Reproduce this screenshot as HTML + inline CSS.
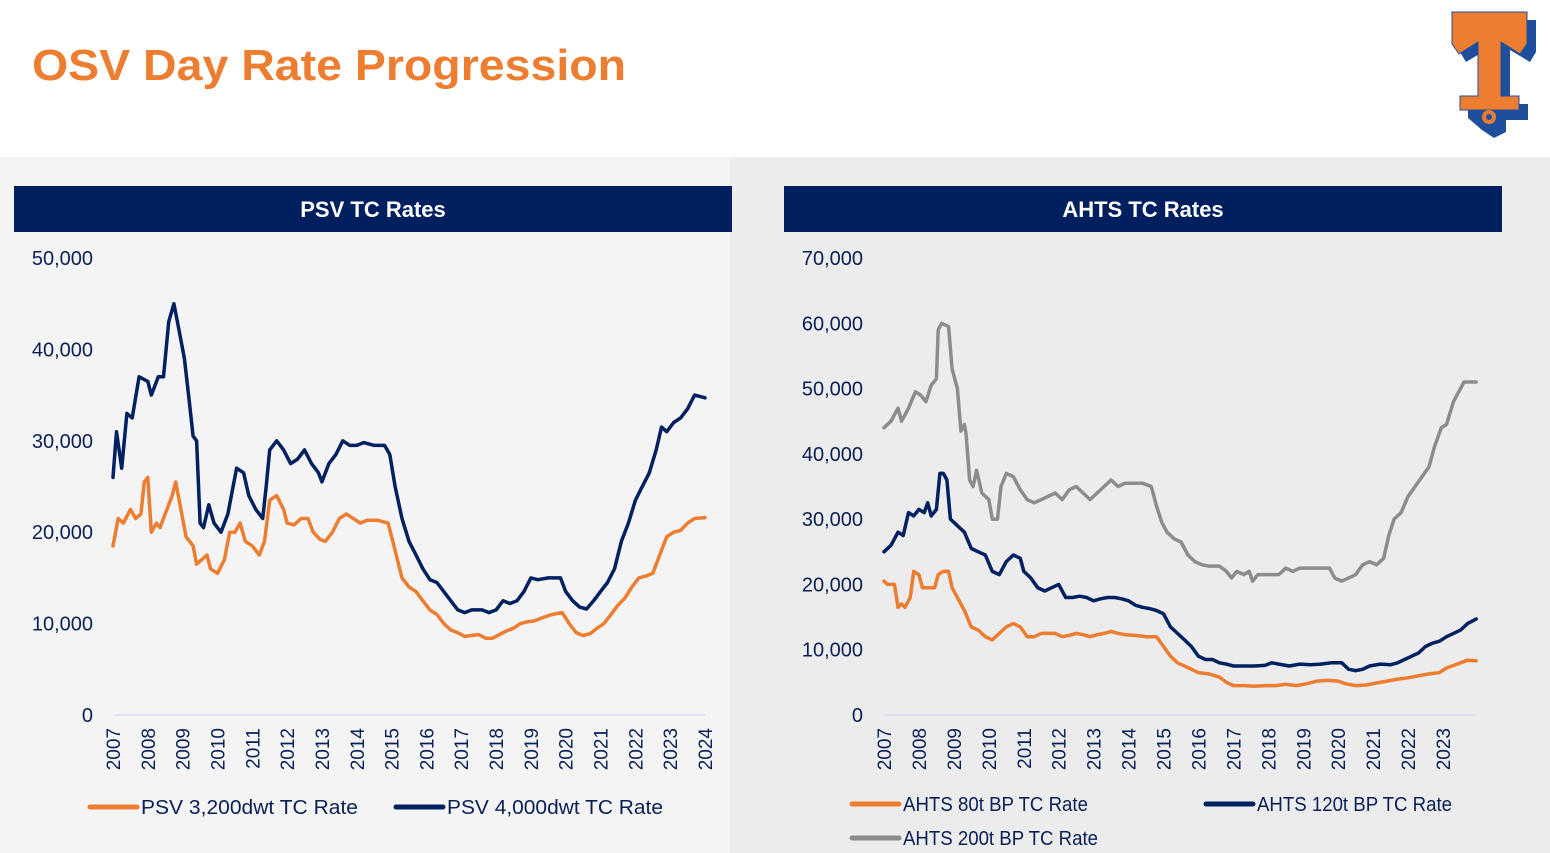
<!DOCTYPE html>
<html><head><meta charset="utf-8">
<style>
body{margin:0;width:1550px;height:853px;overflow:hidden;background:#fff;font-family:"Liberation Sans",Arial,sans-serif;}
svg{position:absolute;left:0;top:0}
</style></head>
<body>
<svg id="s" width="1550" height="853" viewBox="0 0 1550 853" xmlns="http://www.w3.org/2000/svg">
<rect x="0" y="0" width="1550" height="157" fill="#fff"/>
<text x="32" y="80" font-size="44" font-weight="bold" fill="#ed7d31" textLength="594" lengthAdjust="spacingAndGlyphs">OSV Day Rate Progression</text>
<g>
<polygon points="1460,20 1536,20 1536,52 1530,62 1510,50 1510,104 1528,104 1528,120 1506,120 1506,132 1494,138 1482,130 1468,118 1468,104 1486,104 1486,50 1466,62 1460,52" fill="#1f4e9c"/>
<polygon points="1452,12 1527,12 1527,44 1520,54 1501,42 1501,96 1519,96 1519,110 1460,110 1460,96 1478,96 1478,42 1459,54 1452,44" fill="#ed7d31" stroke="#1f4e9c" stroke-width="1"/>
<circle cx="1489" cy="117" r="7" fill="#ed7d31"/><circle cx="1489" cy="117" r="3" fill="#1f4e9c"/>
</g>
<rect x="0" y="157" width="730" height="696" fill="#f4f4f4"/>
<rect x="730" y="157" width="820" height="696" fill="#ececec"/>
<rect x="14" y="186" width="718" height="46" fill="#001f5f"/>
<text x="373" y="217" font-size="22" font-weight="bold" fill="#fff" text-anchor="middle">PSV TC Rates</text>
<rect x="784" y="186" width="718" height="46" fill="#001f5f"/>
<text x="1143" y="217" font-size="22" font-weight="bold" fill="#fff" text-anchor="middle">AHTS TC Rates</text>
<g id="left"></g><g id="right"></g>
</svg>
<script>
// ---------- PSV data ----------
const psvTicks=[0,10000,20000,30000,40000,50000];
const psvYears=[2007,2008,2009,2010,2011,2012,2013,2014,2015,2016,2017,2018,2019,2020,2021,2022,2023,2024];
const psv4000X=[2007.0,2007.1,2007.25,2007.4,2007.55,2007.75,2008.0,2008.1,2008.3,2008.45,2008.6,2008.75,2008.9,2009.05,2009.2,2009.3,2009.4,2009.5,2009.6,2009.75,2009.9,2010.1,2010.3,2010.45,2010.55,2010.75,2010.9,2011.1,2011.3,2011.4,2011.5,2011.7,2011.9,2012.1,2012.3,2012.5,2012.7,2012.9,2013.0,2013.2,2013.4,2013.6,2013.8,2014.0,2014.2,2014.5,2014.8,2014.95,2015.1,2015.3,2015.5,2015.7,2015.9,2016.1,2016.3,2016.5,2016.7,2016.9,2017.1,2017.3,2017.6,2017.8,2018.0,2018.2,2018.4,2018.6,2018.8,2019.0,2019.2,2019.5,2019.7,2019.85,2020.0,2020.2,2020.4,2020.6,2020.8,2021.0,2021.2,2021.4,2021.6,2021.8,2022.0,2022.2,2022.4,2022.6,2022.75,2022.9,2023.1,2023.3,2023.5,2023.7,2024.0];
const psv4000V=[26000,31000,27000,33000,32500,37000,36500,35000,37000,37000,43000,45000,42000,39000,34000,30500,30000,21000,20500,23000,21000,20000,22000,25000,27000,26500,24000,22500,21500,25000,29000,30000,29000,27500,28000,29000,27500,26500,25500,27500,28500,30000,29500,29500,29800,29500,29500,28500,25000,21500,19000,17500,16000,14800,14500,13500,12500,11500,11200,11500,11500,11200,11500,12500,12200,12500,13500,15000,14800,15000,15000,15000,13500,12500,11800,11600,12500,13500,14500,16000,19000,21000,23500,25000,26500,29000,31500,31000,32000,32500,33500,35000,34700];
const psv3200X=[2007.0,2007.15,2007.3,2007.5,2007.65,2007.8,2007.9,2008.0,2008.1,2008.25,2008.35,2008.5,2008.7,2008.8,2008.95,2009.1,2009.3,2009.4,2009.55,2009.7,2009.8,2010.0,2010.2,2010.35,2010.5,2010.65,2010.8,2011.0,2011.2,2011.35,2011.5,2011.7,2011.9,2012.0,2012.2,2012.4,2012.6,2012.75,2012.95,2013.1,2013.3,2013.5,2013.7,2013.9,2014.1,2014.3,2014.6,2014.9,2015.1,2015.3,2015.5,2015.7,2015.9,2016.1,2016.3,2016.5,2016.7,2016.9,2017.1,2017.3,2017.5,2017.7,2017.9,2018.1,2018.3,2018.5,2018.7,2018.9,2019.1,2019.3,2019.6,2019.9,2020.1,2020.3,2020.5,2020.7,2020.9,2021.1,2021.3,2021.5,2021.7,2021.9,2022.1,2022.3,2022.5,2022.7,2022.9,2023.1,2023.3,2023.5,2023.7,2024.0];
const psv3200V=[18500,21500,21000,22500,21500,22000,25500,26000,20000,21000,20500,22000,24000,25500,22500,19500,18500,16500,17000,17500,16000,15500,17000,20000,20000,21000,19000,18500,17500,19000,23500,24000,22500,21000,20800,21500,21500,20000,19200,19000,20000,21500,22000,21500,21000,21300,21300,21000,18000,15000,14000,13500,12500,11500,11000,10000,9300,9000,8600,8700,8800,8400,8400,8800,9200,9500,10000,10200,10300,10600,11000,11200,10000,9000,8700,8900,9500,10000,11000,12000,12800,14000,15000,15200,15500,17500,19500,20000,20200,21000,21500,21600];
// ---------- AHTS data ----------
const ahtsTicks=[0,10000,20000,30000,40000,50000,60000,70000];
const ahtsYears=[2007,2008,2009,2010,2011,2012,2013,2014,2015,2016,2017,2018,2019,2020,2021,2022,2023];
const a200X=[2007.0,2007.2,2007.4,2007.5,2007.7,2007.9,2008.05,2008.2,2008.35,2008.5,2008.55,2008.65,2008.85,2008.95,2009.1,2009.2,2009.3,2009.35,2009.45,2009.55,2009.65,2009.8,2010.0,2010.1,2010.25,2010.35,2010.5,2010.7,2010.9,2011.1,2011.3,2011.5,2011.7,2011.9,2012.1,2012.3,2012.5,2012.7,2012.9,2013.1,2013.3,2013.5,2013.7,2013.9,2014.1,2014.4,2014.65,2014.8,2014.95,2015.1,2015.3,2015.5,2015.7,2015.9,2016.1,2016.3,2016.6,2016.8,2016.95,2017.1,2017.3,2017.45,2017.55,2017.7,2017.9,2018.1,2018.3,2018.5,2018.7,2018.9,2019.1,2019.4,2019.75,2019.9,2020.1,2020.3,2020.5,2020.7,2020.9,2021.1,2021.3,2021.45,2021.6,2021.8,2022.0,2022.2,2022.4,2022.6,2022.75,2022.95,2023.1,2023.3,2023.5,2023.6,2023.95];
const a200V=[44000,45000,47000,45000,47000,49500,49000,48000,50500,51500,59000,60000,59500,53000,50000,43500,44500,43000,36000,35000,37500,34000,33000,30000,30000,35000,37000,36500,34500,33000,32500,33000,33500,34000,33000,34500,35000,34000,33000,34000,35000,36000,35000,35500,35500,35500,35000,32000,29500,28000,27000,26500,24500,23500,23000,22800,22800,22000,21000,22000,21500,22000,20500,21500,21500,21500,21500,22500,22000,22500,22500,22500,22500,21000,20500,21000,21500,23000,23500,23000,24000,27500,30000,31000,33500,35000,36500,38000,41000,44000,44500,48000,50000,51000,51000];
const a120X=[2007.0,2007.2,2007.4,2007.55,2007.7,2007.85,2008.0,2008.15,2008.25,2008.35,2008.5,2008.6,2008.7,2008.8,2008.9,2009.1,2009.3,2009.5,2009.7,2009.9,2010.1,2010.3,2010.5,2010.7,2010.9,2011.0,2011.2,2011.4,2011.6,2011.8,2012.0,2012.2,2012.4,2012.6,2012.8,2013.0,2013.2,2013.4,2013.6,2013.8,2014.0,2014.2,2014.4,2014.6,2014.8,2015.0,2015.2,2015.4,2015.6,2015.8,2016.0,2016.2,2016.4,2016.6,2016.8,2017.0,2017.3,2017.6,2017.9,2018.1,2018.3,2018.6,2018.9,2019.2,2019.5,2019.8,2020.1,2020.3,2020.5,2020.7,2020.9,2021.2,2021.5,2021.7,2021.9,2022.1,2022.3,2022.5,2022.7,2022.9,2023.1,2023.3,2023.5,2023.7,2023.95];
const a120V=[25000,26000,28000,27500,31000,30500,31500,31000,32500,30500,31500,37000,37000,36000,30000,29000,28000,25500,25000,24500,22000,21500,23500,24500,24000,22000,21000,19500,19000,19500,20000,18000,18000,18200,18000,17500,17800,18000,18000,17800,17500,16800,16500,16300,16000,15500,13500,12500,11500,10500,9000,8500,8500,8000,7800,7500,7500,7500,7600,8000,7800,7500,7800,7700,7800,8000,8000,7000,6800,7000,7500,7800,7700,8000,8500,9000,9500,10500,11000,11300,12000,12500,13000,14000,14700];
const a80X=[2007.0,2007.1,2007.3,2007.4,2007.5,2007.6,2007.75,2007.85,2008.0,2008.1,2008.3,2008.45,2008.55,2008.7,2008.85,2008.95,2009.1,2009.3,2009.5,2009.7,2009.9,2010.1,2010.3,2010.5,2010.7,2010.9,2011.1,2011.3,2011.5,2011.7,2011.9,2012.1,2012.3,2012.5,2012.7,2012.9,2013.1,2013.3,2013.5,2013.7,2013.9,2014.2,2014.5,2014.8,2015.0,2015.2,2015.4,2015.6,2015.8,2016.0,2016.3,2016.6,2016.8,2017.0,2017.3,2017.6,2017.9,2018.2,2018.5,2018.8,2019.1,2019.4,2019.7,2020.0,2020.2,2020.5,2020.8,2021.1,2021.4,2021.7,2022.0,2022.3,2022.6,2022.9,2023.1,2023.4,2023.7,2023.95];
const a80V=[20500,20000,20000,16500,17000,16500,18000,22000,21500,19500,19500,19500,21500,22000,22000,19500,18000,16000,13500,13000,12000,11500,12500,13500,14000,13500,12000,12000,12500,12500,12500,12000,12200,12500,12300,12000,12300,12500,12800,12500,12300,12200,12000,12000,10500,9000,8000,7500,7000,6500,6300,5800,5000,4500,4500,4400,4500,4500,4700,4500,4800,5200,5300,5200,4800,4500,4600,4900,5200,5500,5700,6000,6300,6500,7200,7800,8400,8300];

const NS="http://www.w3.org/2000/svg";
const TXT="#0a1f55";
function mk(parent,tag,attrs){const e=document.createElementNS(NS,tag);for(const k in attrs)e.setAttribute(k,attrs[k]);parent.appendChild(e);return e;}

function chart(g,cfg){
  const sx=y=>cfg.x0+(y-cfg.y0yr)*(cfg.x1-cfg.x0)/(cfg.y1yr-cfg.y0yr);
  const sy=v=>cfg.base-v*(cfg.base-cfg.top)/cfg.max;
  cfg.ticks.forEach(t=>{
    const e=mk(g,'text',{x:cfg.labelX,y:sy(t)+7,'font-size':20,fill:TXT,'text-anchor':'end'});
    e.textContent=t===0?'0':t.toLocaleString('en-US');
    
    
  });
  const ax=mk(g,'line',{x1:cfg.axisL,x2:cfg.axisR,y1:cfg.base,y2:cfg.base,stroke:'#d6e0f0','stroke-width':1.5});
  
  
  cfg.years.forEach(yr=>{
    const x=sx(yr);
    const e=mk(g,'text',{x:0,y:0,'font-size':19,fill:TXT,'text-anchor':'end',transform:`translate(${x+7},${cfg.base+13}) rotate(-90)`});
    e.textContent=String(yr);
    
    
  });
  cfg.series.forEach(s=>{
    const d=s.x.map((xx,i)=>(i?'L':'M')+sx(xx).toFixed(1)+','+sy(s.v[i]).toFixed(1)).join(' ');
    const p=mk(g,'path',{d:d,fill:'none',stroke:s.color,'stroke-width':3.5,'stroke-linejoin':'round','stroke-linecap':'round'});
    
    
  });
  cfg.legend.forEach(l=>{
    const ln=mk(g,'line',{x1:l.x,x2:l.x+47,y1:l.y,y2:l.y,stroke:l.color,'stroke-width':5,'stroke-linecap':'round'});
    
    
    const t=mk(g,'text',{x:l.x+51,y:l.y+7,'font-size':20,fill:TXT,textLength:l.w,lengthAdjust:'spacingAndGlyphs'});
    t.textContent=l.label;
    
    
  });
}
const ORANGE='#ed7d31',NAVY='#002060',GREY='#8c8c8c';
chart(document.getElementById('left'),{x0:113,x1:705,y0yr:2007,y1yr:2024,base:715,top:258,max:50000,labelX:93,axisL:113,axisR:705,ticks:psvTicks,years:psvYears,
  series:[{name:'psv-3200dwt-line',x:psv3200X,v:psv3200V,color:ORANGE},{name:'psv-4000dwt-line',x:psv4000X,v:psv4000V,color:NAVY}],
  legend:[{x:90,y:807,color:ORANGE,label:'PSV 3,200dwt TC Rate',w:217},{x:396,y:807,color:NAVY,label:'PSV 4,000dwt TC Rate',w:216}]});
chart(document.getElementById('right'),{x0:884,x1:1443,y0yr:2007,y1yr:2023,base:715,top:258,max:70000,labelX:863,axisL:884,axisR:1476,ticks:ahtsTicks,years:ahtsYears,
  series:[{name:'ahts-200t-line',x:a200X,v:a200V,color:GREY},{name:'ahts-120t-line',x:a120X,v:a120V,color:NAVY},{name:'ahts-80t-line',x:a80X,v:a80V,color:ORANGE}],
  legend:[{x:852,y:804,color:ORANGE,label:'AHTS 80t BP TC Rate',w:185},{x:1206,y:804,color:NAVY,label:'AHTS 120t BP TC Rate',w:195},{x:852,y:838,color:GREY,label:'AHTS 200t BP TC Rate',w:195}]});
</script>
</body></html>
